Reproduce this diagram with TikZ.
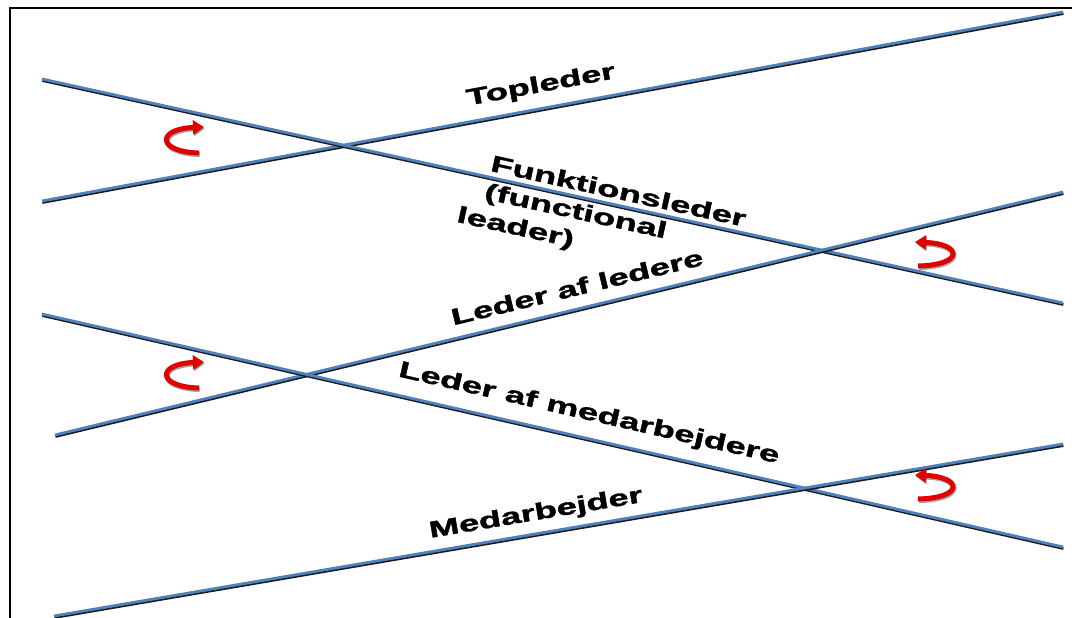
\documentclass[tikz,border=0pt]{standalone}
\usepackage{fontspec}
\setmainfont{Liberation Sans}
\newfontfamily\heavyfont{Liberation Sans Bold}[FakeBold=1.3]
\usetikzlibrary{arrows.meta}
\definecolor{lineblue}{HTML}{4F81BD}
\definecolor{shadecol}{HTML}{1A1A1A}
\definecolor{arrowred}{HTML}{E00000}
\tikzset{
  ln/.style={line width=2.8pt, draw=lineblue},
  lnshadow/.style={line width=2.8pt, draw=shadecol},
  lbl/.style={font=\fontsize{23}{28.5}\selectfont\heavyfont, inner sep=0pt, align=left},
  turn/.style={line width=5pt, draw=arrowred, -{Triangle[length=11pt,width=14pt]}},
  turnshadow/.style={line width=5pt, draw=black, opacity=0.35, -{Triangle[length=11pt,width=14pt]}, shift={(0.8,1.6)}},
  frameline/.style={line width=2.4pt, draw=black}
}
\newcommand{\drawbeam}[2]{%
  \draw[lnshadow] ([xshift=0.4pt,yshift=-1.5pt]#1) -- ([xshift=0.4pt,yshift=-1.5pt]#2);
  \draw[ln] (#1) -- (#2);}
\newcommand{\wideText}[1]{\scalebox{1.58}[1]{#1}}
\begin{document}
\begin{tikzpicture}[x=1pt,y=-1pt]
\useasboundingbox (0,0) rectangle (1072,618);
\fill[white] (0,0) rectangle (1072,618);
% frame
\coordinate (fr1) at (1072,8);
\coordinate (fr2) at (10,8);
\coordinate (fr3) at (10,618);
\draw[frameline] (fr1) -- (fr2) -- (fr3);
% line end points
\coordinate (a1) at (42,201);  \coordinate (a2) at (1063,12);
\coordinate (b1) at (42,79);   \coordinate (b2) at (1063,303);
\coordinate (c1) at (55,435);  \coordinate (c2) at (1063,192);
\coordinate (d1) at (42,314);  \coordinate (d2) at (1063,547);
\coordinate (e1) at (54,616);  \coordinate (e2) at (1063,444);
\drawbeam{a1}{a2}
\drawbeam{b1}{b2}
\drawbeam{c1}{c2}
\drawbeam{d1}{d2}
\drawbeam{e1}{e2}
% labels
\node[lbl, rotate=10.5] (topleder) at (541,86) {\wideText{Topleder}};
\node[lbl, rotate=-12.4] (funk) at (612,221) {\wideText{\begin{tabular}{@{}l@{}}Funktionsleder\\(functional\\\hspace*{-14pt}leader)\end{tabular}}};
\node[lbl, rotate=13.6] (ledere) at (577,287) {\wideText{Leder af ledere}};
\node[lbl, rotate=-12.9] (medarb) at (589,414) {\wideText{Leder af medarbejdere}};
\node[lbl, rotate=9.6] (medarbejder) at (536,514) {\wideText{Medarbejder}};
% turning arrows (left: C opening right)
\foreach \dy in {0,235}{
  \draw[turnshadow] (199,153+\dy) .. controls (157,152+\dy) and (156,129+\dy) .. (204,127+\dy);
  \draw[turn] (199,153+\dy) .. controls (157,152+\dy) and (156,129+\dy) .. (204,127+\dy);
}
% turning arrows (right: reversed C)
\foreach \dy in {0,233}{
  \draw[turnshadow] (918,266+\dy) .. controls (964,265+\dy) and (963,244+\dy) .. (915,242+\dy);
  \draw[turn] (918,266+\dy) .. controls (964,265+\dy) and (963,244+\dy) .. (915,242+\dy);
}
\end{tikzpicture}
\end{document}
